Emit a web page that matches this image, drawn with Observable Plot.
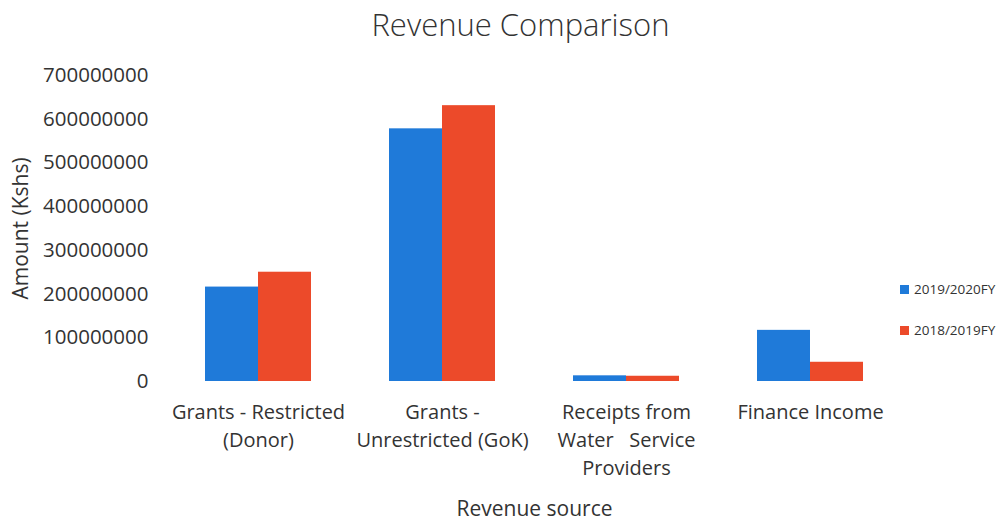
<!DOCTYPE html>
<html>
<head>
<meta charset="utf-8">
<script src="https://cdn.jsdelivr.net/npm/d3@7"></script>
<script src="https://cdn.jsdelivr.net/npm/@observablehq/plot@0.6"></script>
<style>
  html, body { margin: 0; padding: 0; background: #fff; }
  #wrap { position: relative; width: 1001px; height: 520px; font-family: "Open Sans", sans-serif; color: #333; }
  #title { height: 50px; line-height: 48px; text-align: center; font-size: 31px; font-weight: 300; padding-left: 40px; box-sizing: border-box; }
  #legend { position: absolute; left: 900px; top: 276px; font-size: 13.5px; }
  .item { display: flex; align-items: center; height: 26px; margin-bottom: 15px; }
  .sw { width: 9px; height: 9px; margin-right: 5px; }
  #chart g[aria-label="y-axis label"], #chart g[aria-label="fx-axis label"] { font-size: 21px; }
</style>
</head>
<body>
<div id="wrap">
  <div id="title">Revenue Comparison</div>
  <div id="chart"></div>
  <div id="legend"></div>
</div>
<script>
const categories = [
  "Grants - Restricted\n(Donor)",
  "Grants -\nUnrestricted (GoK)",
  "Receipts from\nWater\u00a0\u00a0\u00a0Service\nProviders",
  "Finance Income"
];
const series = ["2019/2020FY", "2018/2019FY"];
const fy2019_2020 = [216000000, 578000000, 13000000, 117000000];
const fy2018_2019 = [250000000, 631000000, 12000000, 44000000];
const yTicks = [0, 100000000, 200000000, 300000000, 400000000, 500000000, 600000000, 700000000];
const colors = ["#1f7ad9", "#ec4a2a"];

const data = [];
categories.forEach((c, i) => {
  data.push({cat: c, series: series[0], value: fy2019_2020[i]});
  data.push({cat: c, series: series[1], value: fy2018_2019[i]});
});

const chart = Plot.plot({
  width: 1001,
  height: 470,
  marginTop: 25,
  marginBottom: 139,
  marginLeft: 166,
  marginRight: 99,
  style: {fontFamily: "Open Sans", color: "#333", background: "white", overflow: "visible"},
  fx: {domain: categories, paddingInner: 0.424, paddingOuter: 0.212},
  x: {domain: series, padding: 0, axis: null},
  y: {domain: [0, 700000000]},
  color: {domain: series, range: colors},
  marks: [
    Plot.barY(data, {fx: "cat", x: "series", y: "value", fill: "series"}),
    Plot.axisY(yTicks, {
      tickSize: 0, tickPadding: 57, fontSize: 20.5,
      tickFormat: d => String(d),
      label: "Amount (Kshs)", labelAnchor: "center", labelOffset: 192, labelArrow: "none"
    }),
    Plot.axisFx({
      anchor: "bottom",
      tickSize: 0, tickPadding: 18, fontSize: 20, lineHeight: 1.4,
      label: "Revenue source", labelAnchor: "center", labelOffset: 134, labelArrow: "none"
    })
  ]
});
document.getElementById("chart").appendChild(chart);

const legend = document.getElementById("legend");
series.forEach((s, i) => {
  const item = document.createElement("div");
  item.className = "item";
  const sw = document.createElement("span");
  sw.className = "sw";
  sw.style.background = colors[i];
  const t = document.createElement("span");
  t.textContent = s;
  item.appendChild(sw);
  item.appendChild(t);
  legend.appendChild(item);
});
</script>
</body>
</html>
